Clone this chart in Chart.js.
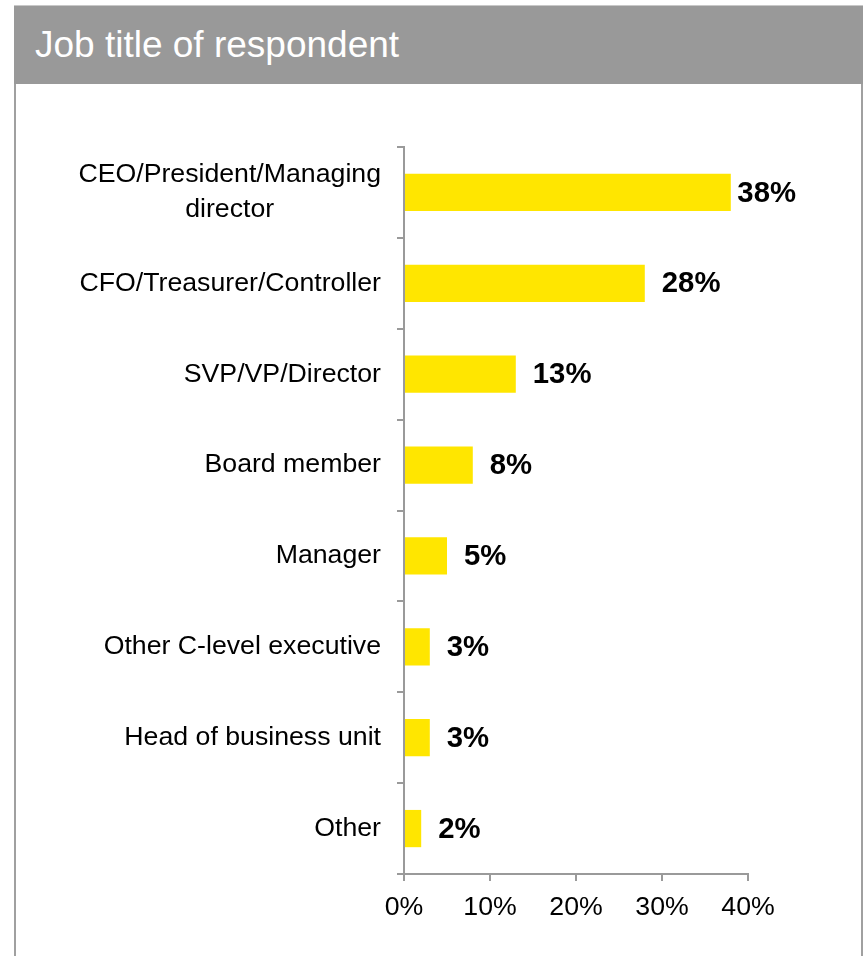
<!DOCTYPE html>
<html>
<head>
<meta charset="utf-8">
<title>Job title of respondent</title>
<script src="https://cdn.jsdelivr.net/npm/chart.js@4"></script>
<style>
  html, body {
    margin: 0;
    padding: 0;
    background: #ffffff;
  }
  #page {
    position: relative;
    width: 868px;
    height: 956px;
    overflow: hidden;
    font-family: "Liberation Sans", Arial, sans-serif;
  }
  #frame {
    position: absolute;
    left: 14px;
    top: 5px;
    width: 845px;
    height: 960px;
    border-left: 2px solid #a0a0a0;
    border-right: 2px solid #a0a0a0;
  }
  #header {
    position: absolute;
    left: 14px;
    top: 5px;
    width: 849px;
    height: 78px;
    background: #999999;
    border-top: 1px solid #c8c8c8;
  }
  #header span {
    position: absolute;
    left: 21px;
    top: 20px;
    font-size: 37px;
    line-height: 37px;
    color: #ffffff;
    white-space: nowrap;
  }
  #chart {
    position: absolute;
    left: 0;
    top: 0;
  }
</style>
</head>
<body>
<div id="page">
  <div id="frame"></div>
  <div id="header"><span>Job title of respondent</span></div>
  <canvas id="chart" width="868" height="956"></canvas>
</div>
<script>
// categories, top to bottom (multi-line labels as arrays)
const job_titles = [
  ["CEO/President/Managing", "director"],
  "CFO/Treasurer/Controller",
  "SVP/VP/Director",
  "Board member",
  "Manager",
  "Other C-level executive",
  "Head of business unit",
  "Other",
];
// share of respondents, percent
const share_values = [38, 28, 13, 8, 5, 3, 3, 2];
// x axis ticks
const x_ticks = [0, 10, 20, 30, 40];

const FONT_FAMILY = "'Liberation Sans', Arial, sans-serif";
const LABEL_SIZE = 26.7;
const VALUE_SIZE = 29.3;
const AXIS_GREY = "#9a9a9a";

// category names drawn right-aligned as a block, lines centred inside it
const category_label_plugin = {
  id: "category_labels",
  afterDraw(chart) {
    const ctx = chart.ctx;
    const y_scale = chart.scales.y;
    const right_x = 381;
    const line_h = 35;
    ctx.save();
    ctx.font = LABEL_SIZE + "px " + FONT_FAMILY;
    ctx.fillStyle = "#000000";
    ctx.textAlign = "center";
    ctx.textBaseline = "middle";
    job_titles.forEach(function (label, i) {
      const lines = Array.isArray(label) ? label : [label];
      const widest = Math.max(...lines.map((t) => ctx.measureText(t).width));
      const cx = right_x - widest / 2;
      const cy = y_scale.getPixelForValue(i);
      const y0 = cy - ((lines.length - 1) * line_h) / 2;
      lines.forEach(function (t, k) {
        ctx.fillText(t, cx, y0 + k * line_h);
      });
    });
    ctx.restore();
  },
};

// bold value labels at the end of each bar
const value_label_plugin = {
  id: "value_labels",
  afterDatasetsDraw(chart) {
    const ctx = chart.ctx;
    const meta = chart.getDatasetMeta(0);
    const limit_right = chart.chartArea.right + 48;
    ctx.save();
    ctx.font = "bold " + VALUE_SIZE + "px " + FONT_FAMILY;
    ctx.fillStyle = "#000000";
    ctx.textAlign = "left";
    ctx.textBaseline = "middle";
    meta.data.forEach(function (bar, i) {
      const text = share_values[i] + "%";
      const w = ctx.measureText(text).width;
      const x = Math.min(bar.x + 17, limit_right - w);
      ctx.fillText(text, x, bar.y + 1);
    });
    ctx.restore();
  },
};

const chart_ctx = document.getElementById("chart").getContext("2d");
new Chart(chart_ctx, {
  type: "bar",
  data: {
    labels: job_titles,
    datasets: [
      {
        data: share_values,
        backgroundColor: "#FFE600",
        borderWidth: 0,
        categoryPercentage: 1,
        barPercentage: 0.41,
      },
    ],
  },
  options: {
    indexAxis: "y",
    responsive: false,
    animation: false,
    events: [],
    layout: {
      padding: { top: 147, right: 120, bottom: 0, left: 0 },
    },
    plugins: {
      legend: { display: false },
      tooltip: { enabled: false },
    },
    scales: {
      x: {
        min: x_ticks[0],
        max: x_ticks[x_ticks.length - 1],
        afterBuildTicks(scale) {
          scale.ticks = x_ticks.map((v) => ({ value: v }));
        },
        afterFit(scale) {
          scale.height = 82;
        },
        grid: {
          drawOnChartArea: false,
          drawTicks: true,
          tickLength: 7,
          color: AXIS_GREY,
          lineWidth: 2,
        },
        border: { color: AXIS_GREY, width: 2 },
        ticks: {
          padding: 11,
          color: "#000000",
          maxRotation: 0,
          font: { size: LABEL_SIZE, family: FONT_FAMILY },
          callback: (v) => v + "%",
        },
      },
      y: {
        afterFit(scale) {
          scale.width = 404;
        },
        grid: {
          offset: true,
          drawOnChartArea: false,
          drawTicks: true,
          tickLength: 7,
          color: AXIS_GREY,
          lineWidth: 2,
        },
        border: { color: AXIS_GREY, width: 2 },
        ticks: { display: false },
      },
    },
  },
  plugins: [category_label_plugin, value_label_plugin],
});
</script>
</body>
</html>
